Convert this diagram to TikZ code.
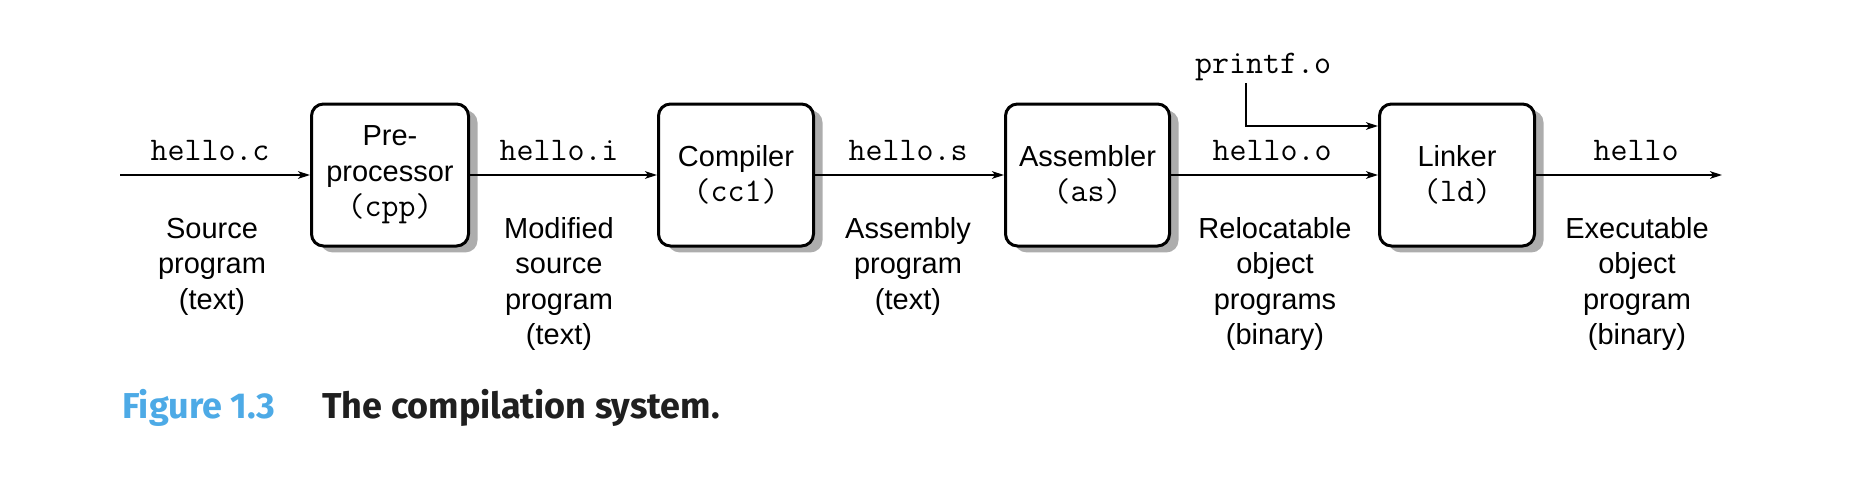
\documentclass[tikz,border=0pt]{standalone}
\usepackage{fontspec}
\setmainfont{Liberation Sans}
\newfontfamily\capfont{Fira Sans}
\usetikzlibrary{arrows.meta,shadows}
\definecolor{figblue}{RGB}{77,170,230}
\newcommand\tcode[1]{{\fontsize{16.5}{17.75}\selectfont\ttfamily #1}}
\begin{document}
\begin{tikzpicture}[x=0.5pt,y=-0.5pt,font=\fontsize{14.5}{17.75}\selectfont]
    \tikzset{%
        n/.style={draw, fill=white, line width=1.5pt, rounded corners=6pt,
            minimum height=71pt, inner sep=0pt, align=center,
            drop shadow={shadow xshift=4.5pt, shadow yshift=-3.2pt, fill=black!32, opacity=1}},
        e/.style={-{Stealth[length=6pt,width=3.8pt,inset=1.6pt]}, line width=0.75pt},
        l/.style={inner sep=0pt, anchor=base},
        d/.style={inner sep=0pt, align=center, anchor=base}%
        }
    \useasboundingbox(0,0)rectangle(1856,482);
    \node[n, minimum width=78.5pt](cpp)at(390,175){Pre-\\processor\\\tcode{(cpp)}};
    \node[n, minimum width=77.5pt](cc1)at(736,175){Compiler\\\tcode{(cc1)}};
    \node[n, minimum width=82pt](as)at(1087.5,175){Assembler\\\tcode{(as)}};
    \node[n, minimum width=77.5pt](ld)at(1457,175){Linker\\\tcode{(ld)}};
    \coordinate(src)at(120,175);
    \coordinate(exe)at(1722,175);
    \coordinate(pfo)at(1246,83);
    \node[l](pf)at(1263,73){\tcode{printf.o}};
    \node[l](lc)at(210,160){\tcode{hello.c}};
    \node[l](li)at(559,160){\tcode{hello.i}};
    \node[l](ls)at(908,160){\tcode{hello.s}};
    \node[l](lo)at(1272,160){\tcode{hello.o}};
    \node[l](lh)at(1636,160){\tcode{hello}};
    % base = last line
    \node[d](dc)at(212,309){Source\\program\\(text)};
    \node[d](di)at(559,344.5){Modified\\source\\program\\(text)};
    \node[d](ds)at(908,309){Assembly\\program\\(text)};
    \node[d](do)at(1275,344.5){Relocatable\\object\\programs\\(binary)};
    \node[d](dh)at(1637,344.5){Executable\\object\\program\\(binary)};
    \path
    (src)edge[e](cpp)
    (cpp)edge[e](cc1)
    (cc1)edge[e](as)
    (as)edge[e](ld)
    (ld)edge[e](exe);
    \draw[e](pfo)|-([yshift=24.5pt]ld.west);
    \node[l, anchor=base west, text=figblue,
        font=\capfont\bfseries\fontsize{18}{20}\selectfont](fig)at(122,418){Figure 1.3};
    \node[l, anchor=base west, text=black!88,
        font=\capfont\bfseries\fontsize{18}{20}\selectfont](cap)at(322,418){The compilation system.};
\end{tikzpicture}
\end{document}
